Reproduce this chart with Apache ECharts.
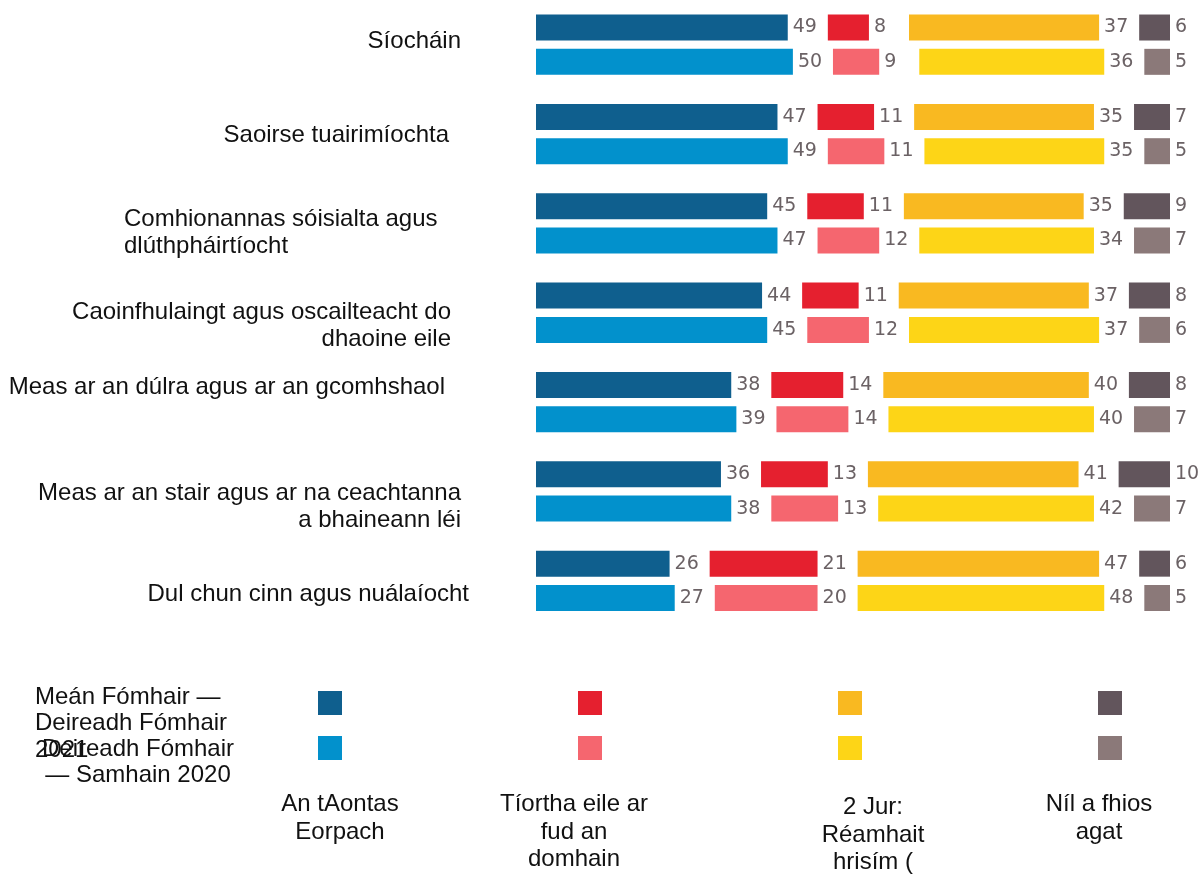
<!DOCTYPE html>
<html>
<head>
<meta charset="utf-8">
<script src="https://cdn.jsdelivr.net/npm/echarts@6/dist/echarts.min.js"></script>
<style>
  html, body { margin: 0; padding: 0; background: #fff; }
  #main { width: 1201px; height: 875px; }
</style>
</head>
<body>
<div id="main"></div>
<script>
// categories (top to bottom)
const categories = [
  'Síocháin',
  'Saoirse tuairimíochta',
  'Comhionannas sóisialta agus\ndlúthpháirtíocht',
  'Caoinfhulaingt agus oscailteacht do\ndhaoine eile',
  'Meas ar an dúlra agus ar an gcomhshaol',
  'Meas ar an stair agus ar na ceachtanna\na bhaineann léi',
  'Dul chun cinn agus nuálaíocht'
];
const periods = ['Meán Fómhair —\nDeireadh Fómhair\n2021', 'Deireadh Fómhair\n— Samhain 2020'];
const answers = ['An tAontas\nEorpach', 'Tíortha eile ar\nfud an\ndomhain', '2 Jur:\nRéamhait\nhrisím (', 'Níl a fhios\nagat'];

// Sept-Oct 2021
const eu2021 = [49, 47, 45, 44, 38, 36, 26];
const other2021 = [8, 11, 11, 11, 14, 13, 21];
const uk2021 = [37, 35, 35, 37, 40, 41, 47];
const dk2021 = [6, 7, 9, 8, 8, 10, 6];
// Oct-Nov 2020
const eu2020 = [50, 49, 47, 45, 39, 38, 27];
const other2020 = [9, 11, 12, 12, 14, 13, 20];
const uk2020 = [36, 35, 34, 37, 40, 42, 48];
const dk2020 = [5, 5, 7, 6, 7, 7, 5];

const values = [[eu2021, other2021, uk2021, dk2021], [eu2020, other2020, uk2020, dk2020]];
const colors = [
  ['#0f5f8e', '#e5202f', '#f9b921', '#62555c'],
  ['#0291cc', '#f5666f', '#fdd517', '#8b7979']
];

const GAP = 7.8; // blank room between segments, holds the value label

const labelFont = '24px "Liberation Sans", Arial, sans-serif';
// [x, y, align] for the category labels
const catPos = [
  [461, 41, 'right'],
  [449, 135, 'right'],
  [124, 233, 'left'],
  [451, 326, 'right'],
  [445, 387, 'right'],
  [461, 507, 'right'],
  [469, 594, 'right']
];
const swatchX = [318, 578, 838, 1098];
const swatchY = [691, 736];
const answerX = [340, 574, 873, 1099];

let series = [];
values.forEach(function (rows, p) {
  rows.forEach(function (data, j) {
    series.push({
      name: answers[j] + p,
      type: 'bar',
      stack: 'p' + p,
      barWidth: 26,
      barGap: '32%',
      data: data,
      itemStyle: { color: colors[p][j] },
      label: {
        show: true,
        position: 'right',
        distance: 5,
        color: '#6b6265',
        fontSize: 19,
        fontFamily: '"DejaVu Sans", sans-serif'
      }
    });
    if (j < 3) {
      series.push({
        type: 'bar',
        stack: 'p' + p,
        barWidth: 26,
        barGap: '32%',
        silent: true,
        data: categories.map(function () { return GAP; }),
        itemStyle: { color: 'transparent' }
      });
    }
  });
});

let graphics = [];
categories.forEach(function (c, i) {
  graphics.push({
    type: 'text', x: catPos[i][0], y: catPos[i][1],
    style: { text: c, font: labelFont, fill: '#111', align: catPos[i][2], verticalAlign: 'middle', lineHeight: 27.5 }
  });
});
colors.forEach(function (row, p) {
  row.forEach(function (col, j) {
    graphics.push({
      type: 'rect',
      shape: { x: swatchX[j], y: swatchY[p], width: 24, height: 24 },
      style: { fill: col }
    });
  });
});
graphics.push({
  type: 'text', x: 35, y: 684,
  style: { text: periods[0], font: labelFont, fill: '#111', align: 'left', verticalAlign: 'top', lineHeight: 26.5 }
});
graphics.push({
  type: 'text', x: 138, y: 736,
  style: { text: periods[1], font: labelFont, fill: '#111', align: 'center', verticalAlign: 'top', lineHeight: 26.5 }
});
answers.forEach(function (a, j) {
  graphics.push({
    type: 'text', x: answerX[j], y: j === 2 ? 794 : 791,
    style: { text: a, font: labelFont, fill: '#111', align: 'center', verticalAlign: 'top', lineHeight: 27.5 }
  });
});

let myChart = echarts.init(document.getElementById('main'));
let option = {
  animation: false,
  grid: { left: 536, width: 634, top: -1, height: 626.5 },
  xAxis: { type: 'value', min: 0, max: 100 + 3 * GAP, show: false },
  yAxis: {
    type: 'category',
    data: categories,
    inverse: true,
    axisLine: { show: false },
    axisTick: { show: false },
    axisLabel: { show: false }
  },
  series: series,
  graphic: graphics
};
myChart.setOption(option);
</script>
</body>
</html>
